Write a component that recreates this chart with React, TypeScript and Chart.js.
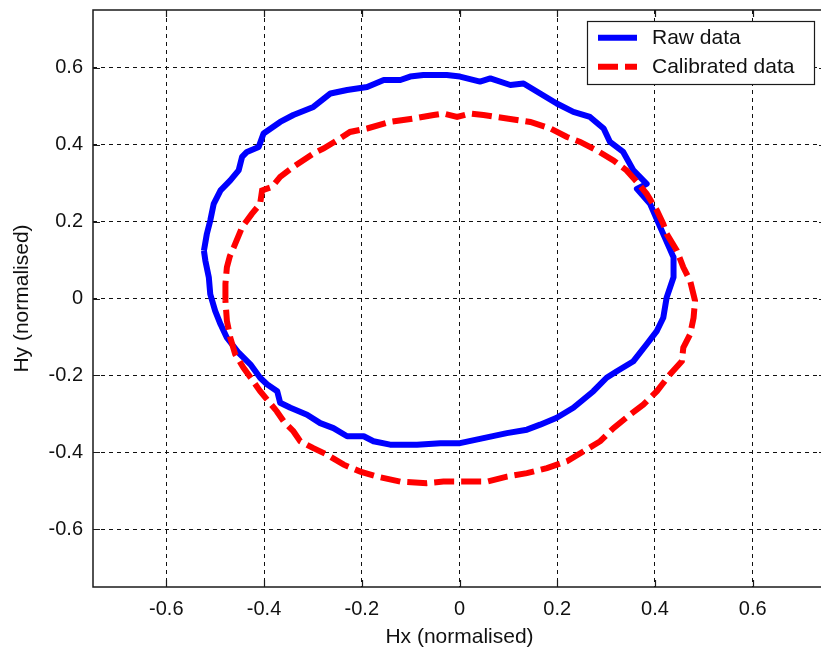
import { useEffect, useRef } from "react";
import { Chart, registerables } from "chart.js";

Chart.register(...registerables);

const axisMin = -0.75;
const axisMax = 0.75;
const xTicks = [-0.6, -0.4, -0.2, 0, 0.2, 0.4, 0.6];
const xTickLabels = ["-0.6", "-0.4", "-0.2", "0", "0.2", "0.4", "0.6"];
const yTicks = [-0.6, -0.4, -0.2, 0, 0.2, 0.4, 0.6];
const yTickLabels = ["-0.6", "-0.4", "-0.2", "0", "0.2", "0.4", "0.6"];
const xTitle = "Hx (normalised)";
const yTitle = "Hy (normalised)";
const seriesNames = ["Raw data", "Calibrated data"];
const seriesColors = ["#0000ff", "#ff0000"];

const rawData: [number, number][] = [
  [-0.523, 0.124], [-0.517, 0.168], [-0.51, 0.203], [-0.503, 0.246], [-0.489, 0.281],
  [-0.469, 0.307], [-0.452, 0.333], [-0.445, 0.368], [-0.435, 0.381], [-0.411, 0.394],
  [-0.401, 0.429], [-0.367, 0.459], [-0.34, 0.477], [-0.299, 0.498], [-0.264, 0.533],
  [-0.23, 0.542], [-0.189, 0.55], [-0.155, 0.568], [-0.121, 0.568], [-0.101, 0.577],
  [-0.074, 0.581], [-0.026, 0.581], [0.001, 0.577], [0.042, 0.564], [0.063, 0.572],
  [0.104, 0.555], [0.131, 0.559], [0.165, 0.533], [0.199, 0.507], [0.233, 0.485],
  [0.267, 0.472], [0.295, 0.442], [0.308, 0.407], [0.335, 0.381], [0.356, 0.333],
  [0.383, 0.298], [0.363, 0.285], [0.39, 0.246], [0.411, 0.185], [0.438, 0.107],
  [0.438, 0.055], [0.424, 0.003], [0.417, -0.05], [0.404, -0.084], [0.383, -0.119],
  [0.356, -0.163], [0.322, -0.189], [0.301, -0.206], [0.274, -0.241], [0.233, -0.284],
  [0.199, -0.31], [0.165, -0.328], [0.138, -0.341], [0.097, -0.35], [0.049, -0.363],
  [0.001, -0.376], [-0.039, -0.376], [-0.087, -0.38], [-0.121, -0.38], [-0.142, -0.38],
  [-0.176, -0.371], [-0.196, -0.358], [-0.23, -0.358], [-0.258, -0.337], [-0.285, -0.324],
  [-0.312, -0.302], [-0.346, -0.284], [-0.367, -0.271], [-0.373, -0.241], [-0.394, -0.223],
  [-0.408, -0.206], [-0.428, -0.171], [-0.452, -0.141], [-0.476, -0.102], [-0.489, -0.067],
  [-0.5, -0.032], [-0.51, 0.011], [-0.513, 0.055], [-0.52, 0.098], [-0.523, 0.124],
];

const calibratedData: [number, number][] = [
  [-0.479, -0.006], [-0.479, 0.038], [-0.476, 0.081], [-0.47, 0.11], [-0.462, 0.133],
  [-0.445, 0.185], [-0.425, 0.22], [-0.408, 0.246], [-0.404, 0.281], [-0.384, 0.29],
  [-0.367, 0.316], [-0.34, 0.342], [-0.299, 0.377], [-0.278, 0.39], [-0.251, 0.411],
  [-0.224, 0.433], [-0.189, 0.442], [-0.142, 0.459], [-0.094, 0.468], [-0.053, 0.477],
  [-0.033, 0.481], [-0.005, 0.472], [0.022, 0.481], [0.049, 0.477], [0.097, 0.468],
  [0.145, 0.459], [0.186, 0.442], [0.22, 0.42], [0.247, 0.407], [0.281, 0.385],
  [0.315, 0.359], [0.342, 0.333], [0.363, 0.303], [0.383, 0.272], [0.404, 0.229],
  [0.417, 0.194], [0.424, 0.168], [0.445, 0.124], [0.458, 0.081], [0.472, 0.046],
  [0.482, -0.006], [0.479, -0.05], [0.472, -0.093], [0.458, -0.128], [0.455, -0.163],
  [0.431, -0.197], [0.404, -0.241], [0.376, -0.276], [0.349, -0.302], [0.315, -0.337],
  [0.288, -0.371], [0.254, -0.397], [0.22, -0.423], [0.179, -0.441], [0.138, -0.454],
  [0.097, -0.463], [0.056, -0.476], [0.015, -0.476], [-0.033, -0.476], [-0.067, -0.48],
  [-0.121, -0.476], [-0.169, -0.463], [-0.203, -0.45], [-0.237, -0.432], [-0.271, -0.406],
  [-0.299, -0.389], [-0.326, -0.371], [-0.34, -0.345], [-0.36, -0.319], [-0.374, -0.293],
  [-0.391, -0.267], [-0.408, -0.241], [-0.425, -0.21], [-0.442, -0.18], [-0.459, -0.145],
  [-0.469, -0.102], [-0.476, -0.058], [-0.479, -0.006],
];

const FONT = '"Liberation Sans", Arial, sans-serif';
const TEXT_COLOR = "#111";

const framePlugin = {
  id: "matlabFrame",
  afterDatasetsDraw(chart: any) {
    const { ctx, chartArea: a, scales } = chart;
    ctx.save();
    ctx.setLineDash([]);
    ctx.strokeStyle = "#1a1a1a";
    ctx.lineWidth = 1.5;
    ctx.strokeRect(a.left, a.top, a.right - a.left, a.bottom - a.top);
    const L = 7;
    ctx.beginPath();
    for (const v of xTicks) {
      const p = Math.round(scales.x.getPixelForValue(v)) + 0.5;
      ctx.moveTo(p, a.bottom);
      ctx.lineTo(p, a.bottom - L);
      ctx.moveTo(p, a.top);
      ctx.lineTo(p, a.top + L);
    }
    for (const v of yTicks) {
      const p = Math.round(scales.y.getPixelForValue(v)) + 0.5;
      ctx.moveTo(a.left, p);
      ctx.lineTo(a.left + L, p);
      ctx.moveTo(a.right, p);
      ctx.lineTo(a.right - L, p);
    }
    ctx.lineWidth = 1.2;
    ctx.stroke();
    ctx.restore();
  },
  afterDraw(chart: any) {
    const { ctx } = chart;
    const bx = 587.5, by = 21.5, bw = 227, bh = 63;
    ctx.save();
    ctx.fillStyle = "#fff";
    ctx.fillRect(bx, by, bw, bh);
    ctx.setLineDash([]);
    ctx.strokeStyle = "#1a1a1a";
    ctx.lineWidth = 1.2;
    ctx.strokeRect(bx, by, bw, bh);
    const rows = [37.7, 66.7];
    chart.data.datasets.forEach((ds: any, i: number) => {
      const y = rows[i];
      ctx.beginPath();
      ctx.setLineDash(ds.borderDash || []);
      ctx.strokeStyle = ds.borderColor;
      ctx.lineWidth = 6;
      ctx.lineCap = "butt";
      ctx.moveTo(598, y);
      ctx.lineTo(637, y);
      ctx.stroke();
      ctx.setLineDash([]);
      ctx.fillStyle = TEXT_COLOR;
      ctx.font = `21px ${FONT}`;
      ctx.textAlign = "left";
      ctx.textBaseline = "middle";
      ctx.fillText(ds.label, 652, y + 1);
    });
    ctx.restore();
  },
};

export default function App() {
  const canvasRef = useRef<HTMLCanvasElement | null>(null);

  useEffect(() => {
    if (!canvasRef.current) return;
    Chart.defaults.font.family = FONT;
    const chart = new Chart(canvasRef.current, {
      type: "scatter",
      data: {
        datasets: [
          {
            label: seriesNames[0],
            data: rawData.map(([x, y]) => ({ x, y })),
            borderColor: seriesColors[0],
            backgroundColor: seriesColors[0],
            borderWidth: 6,
            pointRadius: 0,
            showLine: true,
            fill: false,
            tension: 0,
            borderJoinStyle: "round",
            order: 1,
          },
          {
            label: seriesNames[1],
            data: calibratedData.map(([x, y]) => ({ x, y })),
            borderColor: seriesColors[1],
            backgroundColor: seriesColors[1],
            borderWidth: 6,
            borderDash: [20, 7],
            pointRadius: 0,
            showLine: true,
            fill: false,
            tension: 0,
            order: 0,
          },
        ],
      },
      options: {
        animation: false,
        responsive: false,
        layout: { padding: { left: 0, top: 10, right: 4, bottom: 0 } },
        plugins: {
          legend: { display: false },
          tooltip: { enabled: false },
        },
        scales: {
          x: {
            type: "linear",
            min: axisMin,
            max: axisMax,
            afterBuildTicks: (scale: any) => {
              scale.ticks = xTicks.map((v) => ({ value: v }));
            },
            afterFit: (scale: any) => {
              scale.height = 63;
              scale.paddingLeft = 0;
              scale.paddingRight = 0;
            },
            ticks: {
              autoSkip: false,
              maxRotation: 0,
              padding: 10,
              color: TEXT_COLOR,
              font: { size: 20 },
              callback: (_v: any, i: number) => xTickLabels[i],
            },
            grid: { color: "#111", lineWidth: 1, drawTicks: false },
            border: { display: false, dash: [4, 4] },
            title: {
              display: true,
              text: xTitle,
              color: TEXT_COLOR,
              font: { size: 21 },
              padding: { top: 0, bottom: 0 },
            },
          },
          y: {
            type: "linear",
            min: axisMin,
            max: axisMax,
            afterBuildTicks: (scale: any) => {
              scale.ticks = yTicks.map((v) => ({ value: v }));
            },
            afterFit: (scale: any) => {
              scale.width = 93;
              scale.paddingTop = 0;
              scale.paddingBottom = 0;
            },
            ticks: {
              autoSkip: false,
              padding: 10,
              color: TEXT_COLOR,
              font: { size: 20 },
              callback: (_v: any, i: number) => yTickLabels[i],
            },
            grid: { color: "#111", lineWidth: 1, drawTicks: false },
            border: { display: false, dash: [4, 4] },
            title: {
              display: true,
              text: yTitle,
              color: TEXT_COLOR,
              font: { size: 21 },
              padding: { top: 10, bottom: 0 },
            },
          },
        },
      },
      plugins: [framePlugin],
    } as any);
    return () => chart.destroy();
  }, []);

  return (
    <div
      style={{
        position: "fixed",
        left: 0,
        top: 0,
        width: 821,
        height: 650,
        overflow: "hidden",
        background: "#fff",
      }}
    >
      <canvas
        ref={canvasRef}
        width={830}
        height={650}
        style={{ display: "block", width: 830, height: 650 }}
      />
    </div>
  );
}
